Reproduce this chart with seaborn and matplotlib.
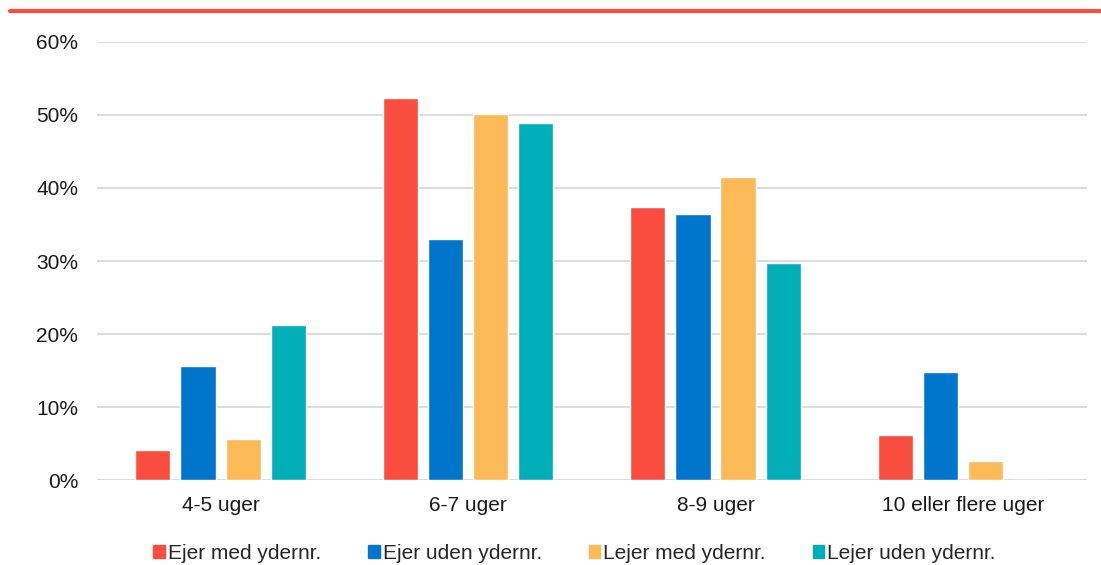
import pandas as pd
import matplotlib.pyplot as plt
import seaborn as sns
from matplotlib.lines import Line2D

# Data
categories = ['4-5 uger', '6-7 uger', '8-9 uger', '10 eller flere uger']
series = ['Ejer med ydernr.', 'Ejer uden ydernr.', 'Lejer med ydernr.', 'Lejer uden ydernr.']
ejer_med = [4.1, 52.3, 37.4, 6.2]
ejer_uden = [15.6, 33.0, 36.4, 14.8]
lejer_med = [5.7, 50.1, 41.5, 2.7]
lejer_uden = [21.2, 48.9, 29.7, 0.0]
colors = ['#F94E3F', '#0075CC', '#FDBA58', '#00AEB8']
yticks = [0, 10, 20, 30, 40, 50, 60]

rows = []
for name, vals in zip(series, [ejer_med, ejer_uden, lejer_med, lejer_uden]):
    for cat, v in zip(categories, vals):
        rows.append({'kategori': cat, 'gruppe': name, 'andel': v})
df = pd.DataFrame(rows)

sns.set_style('white')
plt.rcParams['font.family'] = ['Liberation Sans', 'DejaVu Sans']

fig = plt.figure(figsize=(11.01, 5.65), dpi=100)
ax = fig.add_axes([0.088, 0.150, 0.899, 0.776])

sns.barplot(data=df, x='kategori', y='andel', hue='gruppe', order=categories,
            hue_order=series, palette=colors, width=0.73, gap=0.22,
            saturation=1, ax=ax, legend=False)

ax.set_ylim(0, 60)
ax.set_xlim(-0.5, 3.5)
ax.set_yticks(yticks)
ax.set_yticklabels([f'{t}%' for t in yticks])
ax.yaxis.grid(True, color='#D9D9D9', linewidth=1.3)
ax.set_axisbelow(True)
ax.set_xlabel('')
ax.set_ylabel('')
for s in ax.spines.values():
    s.set_visible(False)
ax.tick_params(axis='both', length=0, labelsize=15, colors='#1a1a1a')
ax.tick_params(axis='y', pad=13.5)
ax.tick_params(axis='x', pad=11)

# Red line at top
fig.add_artist(Line2D([0.009, 0.999], [0.980, 0.980], color='#F94E3F', linewidth=3))

handles = [plt.Rectangle((0, 0), 1, 1, color=c) for c in colors]
fig.legend(handles, series, loc='center', bbox_to_anchor=(0.522, 0.021), ncol=4,
           frameon=False, fontsize=15, handlelength=0.55, handleheight=0.55,
           handletextpad=0.15, columnspacing=2.25)

fig.savefig('out.png', dpi=100)
